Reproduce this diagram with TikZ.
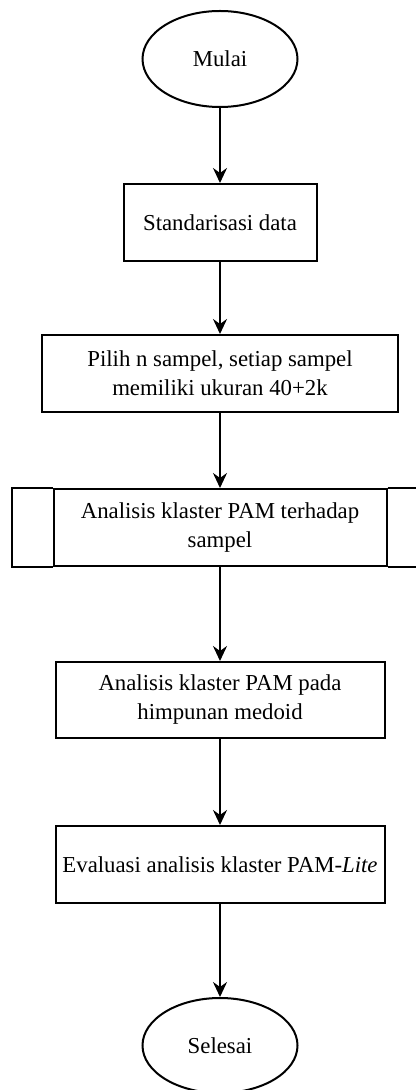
\documentclass[tikz,border=0pt]{standalone}
\usepackage{fontspec}
\setmainfont{Liberation Serif}
\usetikzlibrary{shapes.geometric, arrows.meta}

\begin{document}
\begin{tikzpicture}[x=0.5pt, y=-0.5pt,
    terminal/.style={draw, line width=1pt, ellipse, minimum width=77.5pt, minimum height=48pt, inner sep=0pt},
    proses/.style={draw, line width=1pt, rectangle, minimum height=38.5pt, inner sep=2pt, align=center},
    alur/.style={line width=1pt, -{Stealth[length=7.5pt, width=7pt, inset=2.5pt]}},
    font=\fontsize{11.4}{14.5}\selectfont]
        \useasboundingbox (0,0) rectangle (416,1090);
        % Mulai
        \node[terminal] (mulai) at (220,59) {Mulai};
        % Standarisasi
        \node[proses, minimum width=96.5pt] (standar) at (220,222.5) {Standarisasi data};
        % Pilih sampel
        \node[proses, minimum width=178pt] (sampel) at (220,373.5) {Pilih n sampel, setiap sampel\\memiliki ukuran 40+2k};
        % Proses terdefinisi: PAM terhadap sampel
        \node[proses, minimum width=166.5pt] (pam) at (220,527.5) {Analisis klaster PAM terhadap\\sampel};
        \draw[line width=1pt] (pam.north west) -- ++(-41,0) |- (pam.south west);
        \draw[line width=1pt] (pam.north east) -- ++(41,0) |- (pam.south east);
        % PAM pada medoid
        \node[proses, minimum width=164.5pt, minimum height=38pt] (medoid) at (220,700) {Analisis klaster PAM pada\\himpunan medoid};
        % Evaluasi
        \node[proses, minimum width=164.5pt] (evaluasi) at (220,864.5) {Evaluasi analisis klaster PAM-\textit{Lite}};
        % Selesai
        \node[terminal, minimum height=47.5pt] (selesai) at (220,1045.5) {Selesai};
        % Alur
        \draw[alur] (mulai) -- (standar);
        \draw[alur] (standar) -- (sampel);
        \draw[alur] (sampel) -- (pam);
        \draw[alur] (pam) -- (medoid);
        \draw[alur] (medoid) -- (evaluasi);
        \draw[alur] (evaluasi) -- (selesai);
\end{tikzpicture}
\end{document}
